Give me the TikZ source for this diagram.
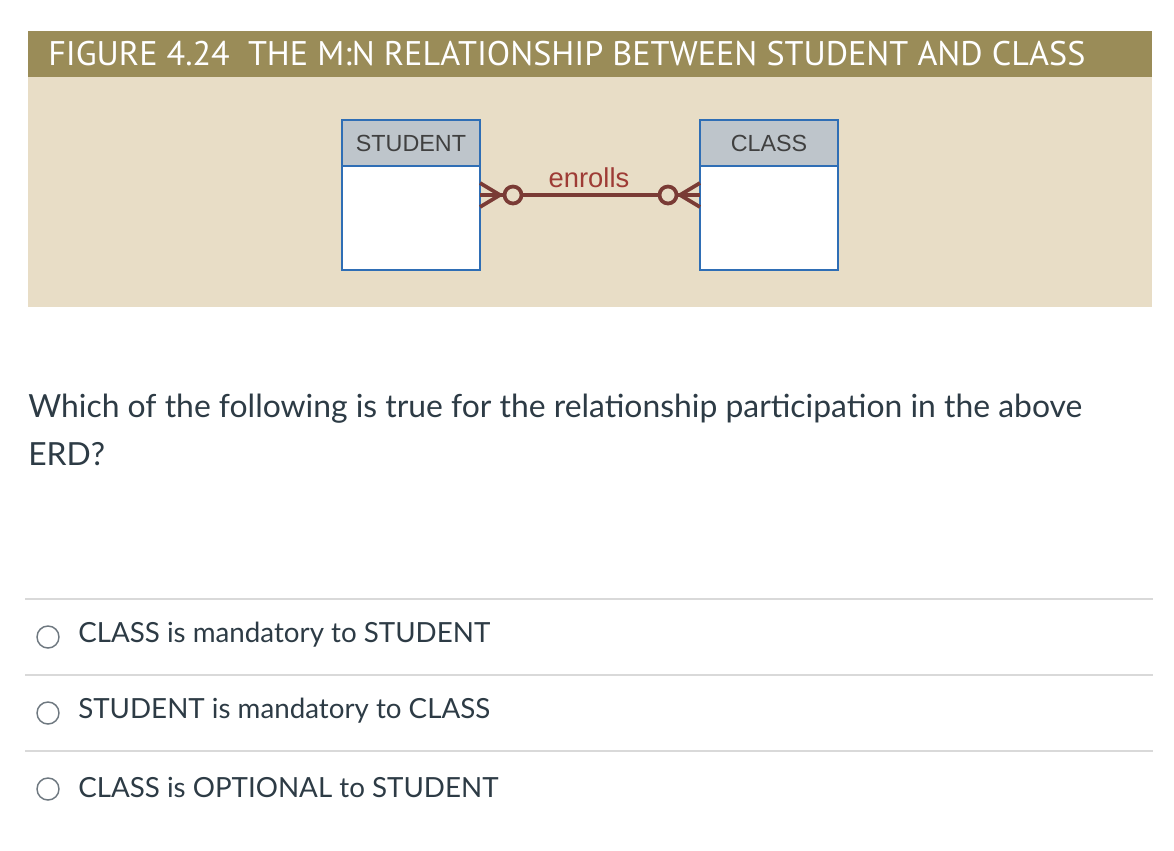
\documentclass[tikz,border=0pt]{standalone}
\usepackage{fontspec}
\setmainfont{Lato}
\newfontfamily\figfont{PT Sans}
\newfontfamily\erdfont{Liberation Sans}
\usetikzlibrary{positioning}

\definecolor{figbar}{RGB}{154,140,88}
\definecolor{figpanel}{RGB}{232,221,198}
\definecolor{entgray}{RGB}{190,197,203}
\definecolor{entblue}{RGB}{47,110,181}
\definecolor{relbrown}{RGB}{122,59,53}
\definecolor{relred}{RGB}{158,59,53}
\definecolor{qtext}{RGB}{45,59,69}
\definecolor{rulegray}{RGB}{217,217,217}
\definecolor{radiogray}{RGB}{110,120,128}

\begin{document}
\begin{tikzpicture}[x=0.75pt,y=0.75pt,yscale=-1,xscale=1,
	entbody/.style={draw=entblue,line width=2.1pt,fill=white,minimum width=103.5pt,minimum height=78pt,inner sep=0pt,outer sep=0pt},
	enttitle/.style={draw=entblue,line width=2.1pt,fill=entgray,minimum width=103.5pt,minimum height=34.5pt,inner sep=0pt,outer sep=0pt,text=black!75,font=\erdfont\fontsize{17.5}{20}\selectfont},
	rel/.style={draw=relbrown,line width=2.8pt},
	rellabel/.style={inner sep=0pt,text=relred,font=\erdfont\fontsize{20.5}{24}\selectfont},
	figtitle/.style={inner sep=0pt,text=white,font=\figfont\fontsize{25.6}{30}\selectfont},
	qtext/.style={inner sep=0pt,text=qtext,font=\fontsize{23.9}{28}\selectfont},
	opttext/.style={inner sep=0pt,text=qtext,font=\fontsize{20.8}{25}\selectfont},
	radio/.style={circle,draw=radiogray,line width=1.1pt,minimum size=16.5pt,inner sep=0pt},
	sepline/.style={draw=rulegray,line width=1pt}]
			\useasboundingbox (0,0) rectangle (1174,850);

			%Shape: Rectangle [title bar]
			\fill[figbar] (28,31) rectangle (1152,77);
			%Shape: Rectangle [figure panel]
			\fill[figpanel] (28,77) rectangle (1152,307);
			% Text Node
			\node[figtitle,anchor=west] (title) at (48,54) {FIGURE 4.24\ \ THE M:N RELATIONSHIP BETWEEN STUDENT AND CLASS};

			%Entity: STUDENT
			\node[entbody] (student) at (411,218) {};
			\node[enttitle,above=0pt of student] (studenthd) {STUDENT};
			%Entity: CLASS
			\node[entbody] (class) at (769,218) {};
			\node[enttitle,above=0pt of class] (classhd) {CLASS};

			%Relationship line
			\coordinate (stuport) at (student.east |- 0,195);
			\coordinate (claport) at (class.west |- 0,195);
			\draw[rel] (stuport) -- (claport);
			%Crow's foot + optional circle, STUDENT side
			\draw[rel] (stuport) ++(0,-12) -- ++(20,12) -- ++(-20,12);
			\draw[rel,fill=figpanel] (stuport) ++(33,0) circle (8.5);
			%Crow's foot + optional circle, CLASS side
			\draw[rel] (claport) ++(0,-12) -- ++(-20,12) -- ++(20,12);
			\draw[rel,fill=figpanel] (claport) ++(-32,0) circle (8.5);
			% Text Node
			\node[rellabel,anchor=base] (enrolls) at (589,187) {enrolls};

			% Text Node
			\node[qtext,anchor=base west] (question) at (28,417) {Which of the following is true for the relationship participation in the above};
			% Text Node
			\node[qtext,anchor=base west] (questionb) at (28,465) {ERD?};

			%Straight Lines
			\draw[sepline] (25,599) -- (1153,599);
			\draw[sepline] (25,675) -- (1153,675);
			\draw[sepline] (25,751) -- (1153,751);

			%Option A
			\node[radio] (radioa) at (48,637) {};
			\node[opttext,anchor=west] (opta) at (78,635) {CLASS is mandatory to STUDENT};
			%Option B
			\node[radio] (radiob) at (48,713) {};
			\node[opttext,anchor=west] (optb) at (78,711) {STUDENT is mandatory to CLASS};
			%Option C
			\node[radio] (radioc) at (48,789) {};
			\node[opttext,anchor=west] (optc) at (78,787) {CLASS is OPTIONAL to STUDENT};

\end{tikzpicture}
\end{document}
